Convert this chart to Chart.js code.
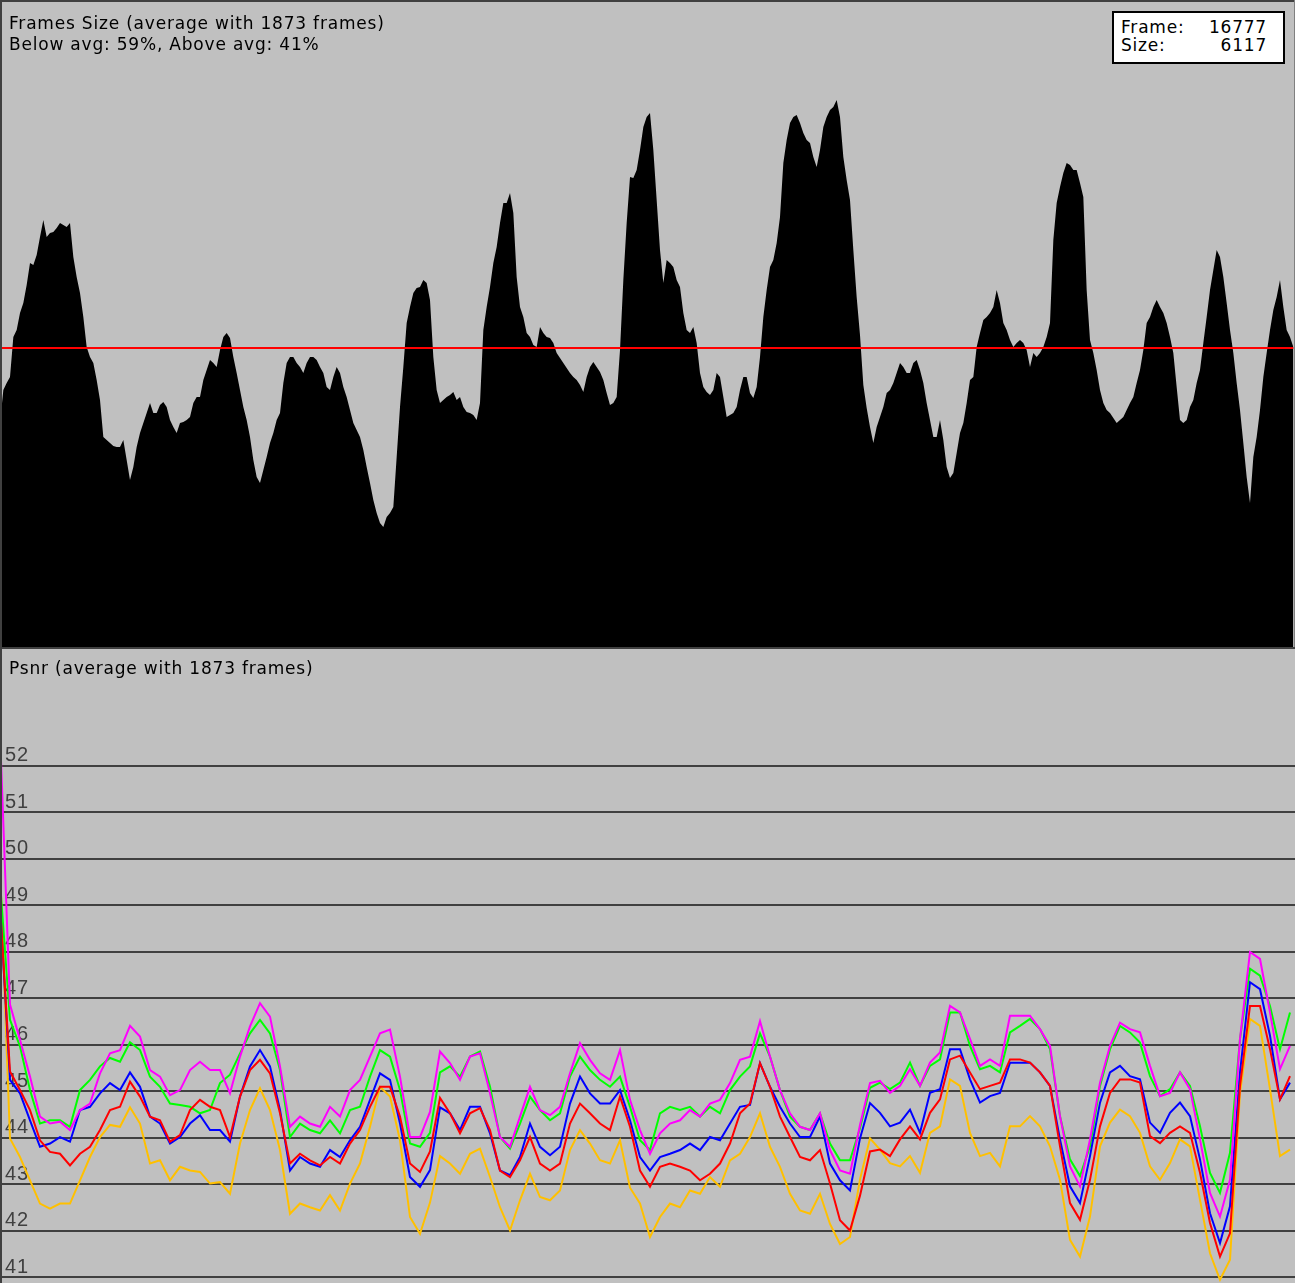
<!DOCTYPE html>
<html>
<head>
<meta charset="utf-8">
<title>Frames Size / Psnr</title>
<script src="https://cdn.jsdelivr.net/npm/chart.js@4.4.1/dist/chart.umd.min.js"></script>
<style>
body{margin:0;background:#c0c0c0;}
#page{position:relative;width:1295px;height:1283px;overflow:hidden;background:#c0c0c0;
   font-family:"DejaVu Sans";font-size:17px;line-height:20px;letter-spacing:0.8px;color:#000;}
canvas{position:absolute;left:0;}
.txt{position:absolute;white-space:nowrap;}
.rule{position:absolute;background:#404040;}
#legendBox{position:absolute;left:1112px;top:11px;width:173px;height:53px;
   box-sizing:border-box;border:2px solid #000;background:#fff;}
</style>
</head>
<body>
<div id="page">

   <canvas id="sizeChart" width="1295" height="648" style="top:0"></canvas>
   <canvas id="psnrChart" width="1295" height="635" style="top:648px"></canvas>

   <div class="rule" style="left:0;top:0;width:1295px;height:2px"></div>
   <div class="rule" style="left:0;top:0;width:2px;height:1283px"></div>
   <div class="rule" style="left:0;top:647px;width:1295px;height:2px"></div>
   <div class="rule" style="left:1294px;top:0;width:1px;height:647px;background:#808080"></div>

   <div class="txt" style="left:9px;top:13px">Frames Size (average with 1873 frames)</div>
   <div class="txt" style="left:9px;top:34px">Below avg: 59%, Above avg: 41%</div>

   <div id="legendBox"></div>
   <div class="txt" style="left:1121px;top:17px">Frame:</div>
   <div class="txt" style="right:28px;top:17px">16777</div>
   <div class="txt" style="left:1121px;top:35px">Size:</div>
   <div class="txt" style="right:28px;top:35px">6117</div>

   <div class="txt" style="left:9px;top:658px">Psnr (average with 1873 frames)</div>

</div>

<script>

/* frame size, one sample per ~1/389 of the frames (same unit as the average) */
let frameSizes = [
   222,255,262,268,308,315,332,342,360,382,
   380,390,408,425,408,412,413,417,422,420,
   418,422,388,368,352,328,298,288,282,265,
   245,208,205,202,199,198,198,205,185,165,
   178,198,212,222,232,242,232,232,240,243,
   238,225,218,212,222,223,225,228,242,248,
   248,265,275,285,282,278,295,308,312,307,
   288,272,255,238,225,208,185,168,162,175,
   188,202,212,225,232,262,282,288,288,282,
   278,272,282,288,288,285,278,272,258,255,
   268,278,272,258,248,235,222,215,208,195,
   178,162,145,132,122,118,128,132,138,188,
   238,278,322,338,352,357,358,365,362,345,
   288,255,242,245,248,250,253,245,248,238,
   233,232,230,225,242,315,338,358,382,398,
   422,442,442,452,432,368,338,328,312,308,
   300,298,318,312,308,307,302,292,287,282,
   277,272,268,265,260,253,268,278,283,278,
   273,265,252,240,242,248,295,365,422,468,
   467,475,495,518,528,532,495,445,395,362,
   385,382,378,365,358,332,315,312,318,302,
   272,258,253,250,255,272,268,248,228,230,
   232,238,255,268,268,252,247,258,288,328,
   355,378,385,402,428,482,505,522,528,530,
   522,512,505,502,488,478,495,518,528,535,
   538,545,528,488,465,445,395,348,310,260,
   237,218,202,218,228,238,252,255,262,272,
   282,278,272,272,282,285,275,262,242,225,
   208,208,225,205,178,167,172,192,212,222,
   242,265,268,298,312,325,328,332,338,355,
   342,322,315,305,298,302,305,302,295,278,
   292,288,292,298,308,322,405,442,458,472,
   482,480,475,475,462,448,355,305,292,275,
   255,242,235,232,227,222,225,228,235,242,
   248,262,275,295,322,328,338,345,338,332,
   322,308,292,258,225,222,225,238,245,262,
   275,302,328,355,375,395,388,368,342,315,
   292,262,235,202,168,142,188,208,235,268,
   292,315,335,348,365,338,315,308,298
];

let sizeAverage = 297;

/* psnr, one sample per ~1/130 of the frames */
let psnrMagenta = [
   52.7,46.86,46.10,45.31,44.45,44.30,44.34,44.16,44.59,44.73,
   45.38,45.81,45.88,46.40,46.17,45.45,45.31,44.91,45.02,45.45,
   45.63,45.45,45.45,44.95,45.74,46.39,46.89,46.60,45.53,44.23,
   44.45,44.30,44.23,44.66,44.45,45.02,45.24,45.74,46.24,46.32,
   45.31,44.01,44.01,44.55,45.85,45.60,45.24,45.74,45.81,44.95,
   44.01,43.80,44.45,45.09,44.59,44.48,44.66,45.38,46.03,45.67,
   45.38,45.24,45.88,44.81,44.16,43.65,44.09,44.30,44.37,44.59,
   44.45,44.73,44.81,45.17,45.67,45.74,46.50,45.74,45.02,44.52,
   44.23,44.16,44.52,43.73,43.29,43.22,44.27,45.17,45.22,44.96,
   45.11,45.47,45.11,45.61,45.83,46.83,46.69,46.12,45.54,45.68,
   45.54,46.62,46.62,46.62,46.33,45.97,44.46,43.38,42.95,43.96,
   45.18,45.97,46.47,46.33,46.26,45.54,44.89,44.96,45.40,45.04,
   43.96,42.81,42.30,43.09,46.12,47.99,47.84,46.69,45.47,45.97
];

let psnrGreen = [
   49.5,46.53,45.96,45.02,44.30,44.37,44.37,44.23,45.02,45.24,
   45.53,45.71,45.63,46.05,45.88,45.31,45.09,44.73,44.70,44.66,
   44.52,44.59,45.17,45.35,45.81,46.24,46.53,46.24,45.45,44.01,
   44.30,44.16,44.09,44.37,44.09,44.59,44.66,45.31,45.88,45.74,
   45.02,43.87,43.80,44.10,45.40,45.53,45.31,45.74,45.85,45.09,
   44.01,43.76,44.30,44.88,44.59,44.37,44.52,45.31,45.74,45.45,
   45.24,45.09,45.31,44.66,43.94,43.73,44.52,44.66,44.59,44.66,
   44.45,44.66,44.52,45.02,45.31,45.53,46.24,45.74,45.02,44.45,
   44.23,44.16,44.52,43.87,43.51,43.51,44.20,45.07,45.18,45.04,
   45.18,45.61,45.11,45.54,45.68,46.69,46.69,45.97,45.47,45.54,
   45.40,46.26,46.40,46.55,46.33,45.90,44.46,43.53,43.17,43.81,
   45.11,45.90,46.40,46.26,46.04,45.32,44.89,45.04,45.40,45.11,
   44.24,43.24,42.81,43.67,46.12,47.63,47.48,46.83,45.90,46.69
];

let psnrBlue = [
   49.0,45.24,44.95,44.37,43.80,43.87,44.01,43.91,44.59,44.66,
   44.95,45.17,45.02,45.40,45.09,44.45,44.30,43.87,44.01,44.30,
   44.48,44.16,44.16,43.91,44.88,45.53,45.88,45.53,44.59,43.29,
   43.58,43.44,43.37,43.73,43.58,43.94,44.23,44.81,45.38,45.24,
   44.30,43.15,42.94,43.30,44.65,44.52,44.16,44.66,44.66,44.09,
   43.29,43.19,43.58,44.30,43.80,43.62,43.80,44.73,45.31,44.95,
   44.73,44.73,45.02,44.37,43.58,43.29,43.58,43.65,43.73,43.87,
   43.73,44.01,43.94,44.30,44.66,44.70,45.60,45.09,44.66,44.30,
   44.01,44.01,44.45,43.44,43.08,42.86,43.98,44.74,44.53,44.24,
   44.32,44.60,44.10,44.96,45.04,45.90,45.90,45.25,44.75,44.89,
   44.96,45.61,45.61,45.61,45.40,45.11,43.96,42.95,42.59,43.60,
   44.75,45.40,45.54,45.32,45.25,44.32,44.10,44.53,44.75,44.46,
   43.53,42.37,41.73,42.52,45.40,47.34,47.19,46.19,44.82,45.18
];

let psnrRed = [
   49.0,45.42,45.02,44.59,43.94,43.69,43.65,43.40,43.65,43.80,
   44.16,44.59,44.66,45.20,44.88,44.45,44.37,43.91,44.05,44.59,
   44.81,44.66,44.59,44.01,44.88,45.45,45.67,45.38,44.52,43.44,
   43.65,43.51,43.40,43.58,43.44,43.87,44.16,44.66,45.09,45.09,
   44.45,43.44,43.26,43.70,44.85,44.52,44.09,44.52,44.63,44.16,
   43.29,43.15,43.51,44.01,43.44,43.29,43.44,44.30,44.73,44.52,
   44.30,44.16,44.88,44.23,43.29,42.94,43.37,43.44,43.37,43.29,
   43.08,43.22,43.44,43.87,44.52,44.73,45.60,45.09,44.45,44.01,
   43.58,43.51,43.73,43.01,42.22,42.00,42.75,43.70,43.74,43.60,
   43.96,44.24,43.96,44.53,44.82,45.68,45.76,45.40,45.04,45.11,
   45.18,45.68,45.68,45.61,45.40,45.11,43.81,42.59,42.23,43.09,
   44.24,44.96,45.25,45.25,45.18,44.03,43.88,44.10,44.24,44.10,
   43.24,42.16,41.44,41.94,45.11,46.83,46.83,45.90,44.82,45.32
];

let psnrOrange = [
   49.8,43.98,43.58,43.08,42.58,42.47,42.58,42.58,43.08,43.58,
   44.01,44.27,44.23,44.65,44.30,43.44,43.51,43.08,43.37,43.29,
   43.26,43.01,43.04,42.79,43.87,44.59,45.06,44.59,43.73,42.36,
   42.58,42.50,42.43,42.76,42.43,43.01,43.44,44.23,45.09,44.88,
   43.94,42.29,41.93,42.60,43.60,43.44,43.22,43.65,43.76,43.15,
   42.50,42.00,42.65,43.22,42.72,42.65,42.86,43.73,44.16,43.87,
   43.51,43.44,43.94,42.92,42.58,41.86,42.29,42.58,42.50,42.86,
   42.79,43.15,42.94,43.51,43.65,44.01,44.52,43.80,43.37,42.79,
   42.43,42.36,42.79,42.14,41.71,41.86,43.10,43.98,43.74,43.45,
   43.38,43.60,43.24,44.10,44.24,45.25,45.11,44.10,43.60,43.67,
   43.38,44.24,44.24,44.46,44.24,43.81,43.09,41.80,41.44,42.30,
   43.81,44.32,44.60,44.46,44.10,43.38,43.09,43.45,43.96,43.81,
   42.66,41.51,40.94,41.37,44.96,46.55,46.40,45.04,43.60,43.74
];

let psnrTicks = [41,42,43,44,45,46,47,48,49,50,51,52];


function toPoints(values){

   return values.map(function(v,i){
      return { x:i, y:v };
   });

}

let baseOptions = {

   responsive:false,
   animation:false,
   events:[],
   layout:{ padding:0 },
   elements:{
      point:{ radius:0 },
      line:{ tension:0 }
   },
   plugins:{
      legend:{ display:false },
      tooltip:{ enabled:false }
   }

};


/* frames size chart */

new Chart(document.getElementById("sizeChart"), {

   type:"line",

   data:{
      datasets:[
         {
            data: toPoints(frameSizes.map(function(){ return sizeAverage; })),
            borderColor:"#ff0000",
            borderWidth:2,
            fill:false
         },
         {
            data: toPoints(frameSizes),
            borderWidth:0,
            borderColor:"#000000",
            backgroundColor:"#000000",
            fill:"start"
         }
      ]
   },

   options: Object.assign({}, baseOptions, {
      scales:{
         x:{ type:"linear", display:false, min:0, max:frameSizes.length - 0.5 },
         y:{ display:false, min:-3, max:645 }
      }
   })

});


/* psnr chart */

function psnrSet(values, color){

   return {
      data: toPoints(values),
      borderColor: color,
      borderWidth: 2,
      fill: false
   };

}

new Chart(document.getElementById("psnrChart"), {

   type:"line",

   data:{
      datasets:[
         psnrSet(psnrMagenta, "#ff00ff"),
         psnrSet(psnrRed, "#ff0000"),
         psnrSet(psnrBlue, "#0000ff"),
         psnrSet(psnrGreen, "#00ff00"),
         psnrSet(psnrOrange, "#ffc000")
      ]
   },

   options: Object.assign({}, baseOptions, {
      scales:{
         x:{ type:"linear", display:false, min:0, max:psnrMagenta.length - 0.5 },
         y:{
            position:"left",
            min:40.871,
            max:54.527,
            afterBuildTicks:function(scale){
               scale.ticks = psnrTicks.map(function(v){ return { value:v }; });
            },
            /* labels sit inside the plot, so the axis takes no room */
            afterFit:function(scale){
               scale.width = 0;
               scale.paddingTop = 0;
               scale.paddingBottom = 0;
               scale.paddingLeft = 0;
               scale.paddingRight = 0;
            },
            border:{ display:false },
            grid:{ color:"#404040", lineWidth:2, drawTicks:false },
            ticks:{
               mirror:true,
               padding:5,
               labelOffset:-10,
               autoSkip:false,
               color:"#404040",
               font:{ family:"Liberation Sans", size:20 },
               callback:function(v){ return String(v); }
            }
         }
      }
   })

});

</script>
</body>
</html>
